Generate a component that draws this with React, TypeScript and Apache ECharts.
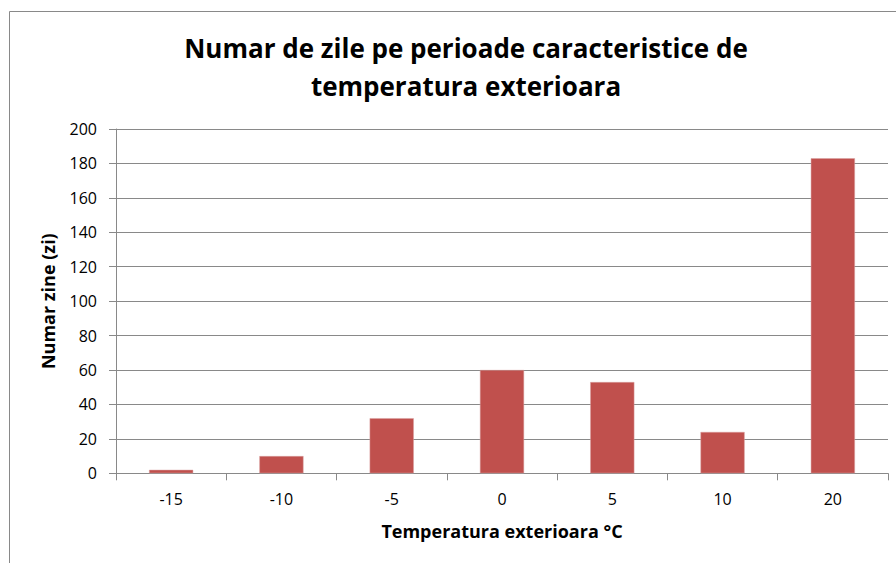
import React, { useEffect, useRef } from "react";
import * as echarts from "echarts";

const titleLines = ["Numar de zile pe perioade caracteristice de", "temperatura exterioara"];
const categories = ["-15", "-10", "-5", "0", "5", "10", "20"];
const values = [2, 10, 32, 60, 53, 24, 183];
const yAxisTitle = "Numar zine (zi)";
const xAxisTitle = "Temperatura exterioara °C";

const FONT = "'Open Sans', 'Noto Sans', sans-serif";
const GRAY = "#898989";

export default function App() {
  const ref = useRef<HTMLDivElement>(null);
  useEffect(() => {
    if (!ref.current) return;
    const chart = echarts.init(ref.current, undefined, { renderer: "svg" });
    chart.setOption({
      animation: false,
      backgroundColor: "#ffffff",
      textStyle: { fontFamily: FONT },
      graphic: [
        {
          type: "rect",
          shape: { x: 9.5, y: 11.5, width: 1000, height: 700 },
          style: { fill: "none", stroke: GRAY, lineWidth: 1 },
          silent: true,
        },
        {
          type: "text",
          x: 466,
          y: 48,
          style: {
            text: titleLines[0],
            fontFamily: FONT,
            fontWeight: "bold",
            fontSize: 26,
            fill: "#000",
            textAlign: "center",
            textVerticalAlign: "middle",
          },
        },
        {
          type: "text",
          x: 466,
          y: 86,
          style: {
            text: titleLines[1],
            fontFamily: FONT,
            fontWeight: "bold",
            fontSize: 26,
            fill: "#000",
            textAlign: "center",
            textVerticalAlign: "middle",
          },
        },
      ],
      grid: { left: 116, top: 129, right: 8, bottom: 89.7, containLabel: false },
      xAxis: {
        type: "category",
        data: categories,
        name: xAxisTitle,
        nameLocation: "middle",
        nameGap: 49,
        nameTextStyle: { fontFamily: FONT, fontWeight: "bold", fontSize: 18, color: "#000" },
        axisLine: { lineStyle: { color: GRAY, width: 1 } },
        axisTick: { show: true, length: 7, alignWithLabel: false, lineStyle: { color: GRAY } },
        axisLabel: { fontFamily: FONT, fontSize: 16, color: "#000", margin: 18 },
        splitLine: { show: false },
      },
      yAxis: {
        type: "value",
        min: 0,
        max: 200,
        interval: 20,
        name: yAxisTitle,
        nameLocation: "middle",
        nameGap: 59,
        nameTextStyle: { fontFamily: FONT, fontWeight: "bold", fontSize: 18, color: "#000" },
        axisLine: { show: true, lineStyle: { color: GRAY, width: 1 } },
        axisTick: { show: true, length: 7, lineStyle: { color: GRAY } },
        axisLabel: { fontFamily: FONT, fontSize: 16, color: "#000", margin: 19 },
        splitLine: { show: true, lineStyle: { color: GRAY, width: 1 } },
      },
      series: [
        {
          type: "bar",
          data: values,
          barCategoryGap: "60%",
          itemStyle: { color: "#C0504D", borderColor: "#D9A0A0", borderWidth: 0.5 },
        },
      ],
    });
    return () => chart.dispose();
  }, []);
  return (
    <div
      ref={ref}
      style={{ position: "fixed", left: 0, top: 0, width: 896, height: 563 }}
    />
  );
}
